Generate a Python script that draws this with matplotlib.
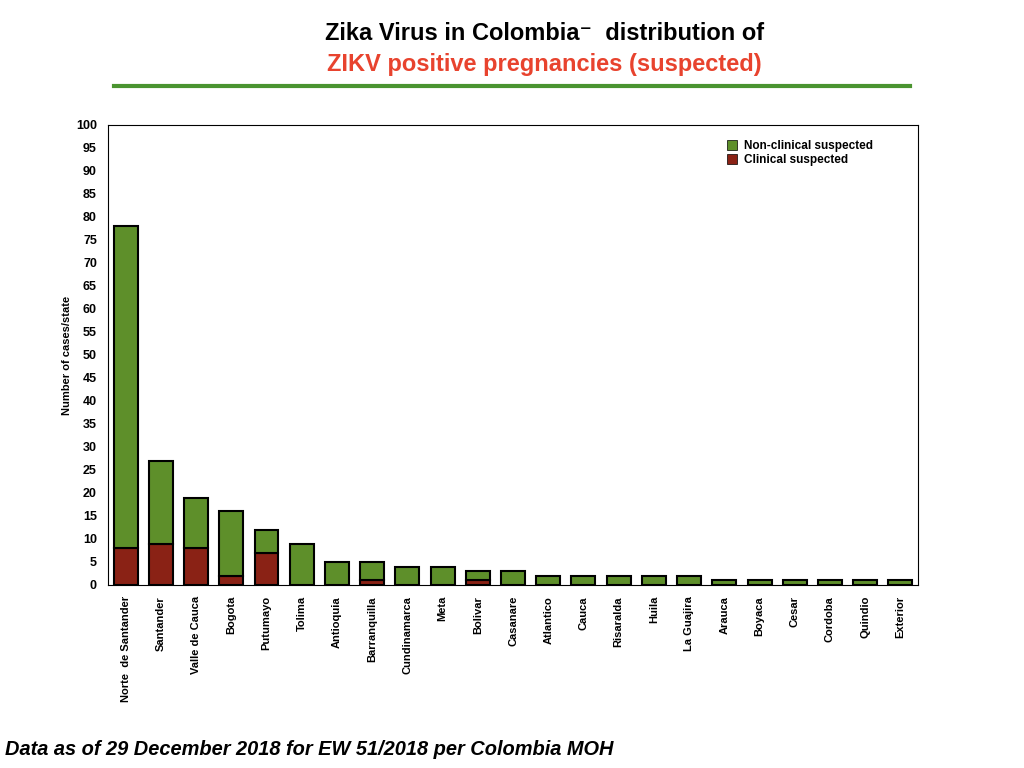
import numpy as np
import matplotlib.pyplot as plt
from matplotlib.patches import Patch

plt.rcParams['font.family'] = ['Liberation Sans', 'DejaVu Sans']

states = ['Norte  de Santander', 'Santander', 'Valle de Cauca', 'Bogota', 'Putumayo',
          'Tolima', 'Antioquia', 'Barranquilla', 'Cundinamarca', 'Meta', 'Bolivar',
          'Casanare', 'Atlantico', 'Cauca', 'Risaralda', 'Huila', 'La Guajira',
          'Arauca', 'Boyaca', 'Cesar', 'Cordoba', 'Quindio', 'Exterior']
clinical = [8, 9, 8, 2, 7, 0, 0, 1, 0, 0, 1, 0, 0, 0, 0, 0, 0, 0, 0, 0, 0, 0, 0]
non_clinical = [70, 18, 11, 14, 5, 9, 5, 4, 4, 4, 2, 3, 2, 2, 2, 2, 2, 1, 1, 1, 1, 1, 1]

green = '#5e8f2a'
red = '#8a2215'

fig = plt.figure(figsize=(10.24, 7.68), dpi=100)
ax = fig.add_axes([0.1055, 0.2383, 0.791, 0.599])

x = np.arange(len(states))
ax.bar(x, clinical, width=0.68, color=red, edgecolor='black', linewidth=1.5,
       label='Clinical suspected')
ax.bar(x, non_clinical, bottom=clinical, width=0.68, color=green, edgecolor='black',
       linewidth=1.5, label='Non-clinical suspected')

ax.set_xlim(-0.5, len(states) - 0.5)
ax.set_ylim(0, 100)
ax.set_yticks(range(0, 101, 5))
ax.set_xticks(x)
ax.set_xticklabels(states, rotation=90, fontsize=8, fontweight='bold')
for lbl in ax.get_yticklabels():
    lbl.set_fontsize(9)
    lbl.set_fontweight('bold')
ax.tick_params(length=0, pad=8)
ax.set_ylabel('Number of cases/state', fontsize=8, fontweight='bold', labelpad=3)

handles = [Patch(facecolor=green, edgecolor='black', linewidth=0.5),
           Patch(facecolor=red, edgecolor='black', linewidth=0.5)]
ax.legend(handles, ['Non-clinical suspected', 'Clinical suspected'], loc='upper right',
          frameon=False, prop={'size': 8.5, 'weight': 'bold'}, handlelength=0.9,
          handleheight=0.9, handletextpad=0.6, labelspacing=0.15,
          bbox_to_anchor=(0.958, 0.99))

fig.text(0.532, 0.957, 'Zika Virus in Colombia\u207b  distribution of', ha='center', va='center',
         fontsize=17, fontweight='bold', color='black')
fig.text(0.532, 0.916, 'ZIKV positive pregnancies (suspected)', ha='center', va='center',
         fontsize=17, fontweight='bold', color='#e8432e')
fig.add_artist(plt.Line2D([0.111, 0.889], [0.888, 0.888], transform=fig.transFigure,
                          color='#4a9430', linewidth=3))

fig.text(0.005, 0.024, 'Data as of 29 December 2018 for EW 51/2018 per Colombia MOH',
         ha='left', va='center', fontsize=14.4, fontweight='bold', fontstyle='italic')

fig.savefig('out.png', dpi=100)
